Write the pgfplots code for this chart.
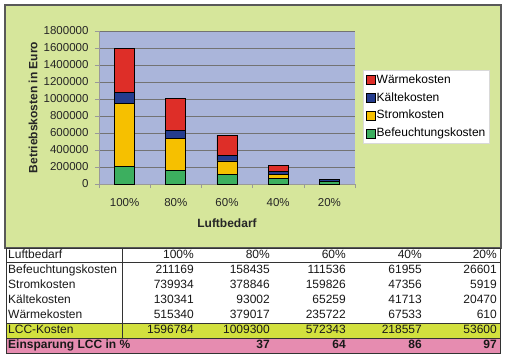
\documentclass[border=0pt]{standalone}
\usepackage{pgfplots}
\pgfplotsset{compat=1.18}
\usepackage{fontspec}
\setmainfont{Liberation Sans}
\definecolor{bggreen}{RGB}{214,230,155}
\definecolor{plotbg}{RGB}{170,181,218}
\definecolor{lccc}{RGB}{210,224,62}
\definecolor{pinkc}{RGB}{230,140,176}
\definecolor{cred}{RGB}{222,46,40}
\definecolor{cblue}{RGB}{36,60,142}
\definecolor{cyellow}{RGB}{246,192,0}
\definecolor{cgreen}{RGB}{60,175,95}
\pgfplotsset{leg/.style={legend image code/.code={\draw[##1,draw=black,line width=0.6pt] (0pt,-4.5pt) rectangle (9pt,4.5pt);}}}
\begin{document}
\begin{tikzpicture}
\begin{scope}[x=1pt,y=1pt]
\path[use as bounding box] (0,0) rectangle (506,360);
\fill[white] (0,0) rectangle (506,360);
\draw[fill=bggreen, draw=black!65, line width=1.2pt] (5,112) rectangle (501,355);
\end{scope}
\begin{axis}[at={(99pt,176pt)}, anchor=origin, scale only axis, width=256pt, height=153pt,
  ybar stacked, bar width=20pt,
  xmin=0, xmax=5, ymin=0, ymax=1800000,
  xtick={0.5,1.5,2.5,3.5,4.5}, xticklabels={100\%,80\%,60\%,40\%,20\%},
  minor xtick={0,1,2,3,4,5},
  ytick={0,200000,...,1800000},
  scaled y ticks=false,
  y tick label style={/pgf/number format/fixed,/pgf/number format/1000 sep={}, xshift=-3pt},
  x tick label style={yshift=-7pt},
  /pgf/number format/assume math mode=true,
  tick label style={font=\fontsize{11.5}{13}\selectfont, text=black!85},
  axis x line*=bottom, axis y line*=left,
  axis line style={draw=gray!80},
  tick style={draw=gray!80},
  major x tick style={draw=none},
  tick align=outside,
  major tick length=4pt, minor tick length=4pt,
  ymajorgrids, grid style={draw=black!55, line width=0.5pt},
  axis background/.style={fill=plotbg},
  every axis y label/.style={at={(axis description cs:-0.2578,0.5)}, rotate=90, anchor=center},
  every axis x label/.style={at={(axis description cs:0.5,-0.255)}, anchor=center},
  label style={font=\bfseries\fontsize{12}{14}\selectfont, text=black!85},
  xlabel={Luftbedarf}, ylabel={Betriebskosten in Euro},
  legend style={at={(axis description cs:1.03,0.745)}, anchor=north west, draw=gray!30, fill=white,
    font=\fontsize{12}{14}\selectfont, row sep=4pt, inner xsep=3pt, inner ysep=3pt,
    cells={anchor=west}, nodes={inner sep=1.2pt, text height=8.8pt, text depth=2.6pt}},
  reverse legend,
]
\addplot[fill=cgreen, draw=black, line width=0.8pt, leg] coordinates {(0.5,211169) (1.5,158435) (2.5,111536) (3.5,61955) (4.5,26601)};
\addlegendentry{Befeuchtungskosten}
\addplot[fill=cyellow, draw=black, line width=0.8pt, leg] coordinates {(0.5,739934) (1.5,378846) (2.5,159826) (3.5,47356) (4.5,5919)};
\addlegendentry{Stromkosten}
\addplot[fill=cblue, draw=black, line width=0.8pt, leg] coordinates {(0.5,130341) (1.5,93002) (2.5,65259) (3.5,41713) (4.5,20470)};
\addlegendentry{Kältekosten}
\addplot[fill=cred, draw=black, line width=0.8pt, leg] coordinates {(0.5,515340) (1.5,379017) (2.5,235722) (3.5,67533) (4.5,610)};
\addlegendentry{Wärmekosten}
\end{axis}
\begin{scope}[x=1pt,y=1pt]
\fill[white] (6,37) rectangle (500,112);
\fill[lccc] (6,22) rectangle (500,37);
\fill[pinkc] (6,7) rectangle (500,22);
\begin{scope}[line width=0.8pt, draw=black!80]
\draw (6,7) rectangle (500,112);
\draw (6,97.5) -- (500,97.5);
\draw (6,37) -- (500,37);
\draw (6,22) -- (500,22);
\draw (122,22) -- (122,112);
\end{scope}
\begin{scope}[every node/.style={inner sep=0pt, font=\fontsize{12}{14}\selectfont, text=black!90}]
\foreach \name/\yy in {Luftbedarf/104, Befeuchtungskosten/89.5, Stromkosten/74.5, Kältekosten/59.5, Wärmekosten/44, LCC-Kosten/29}
  \node[anchor=mid west] at (8,\yy) {\name};
\node[anchor=mid west] at (8,14) {\bfseries Einsparung LCC in \%};
\foreach \a/\b/\c/\d/\e/\yy in {100\%/80\%/60\%/40\%/20\%/104,
  211169/158435/111536/61955/26601/89.5,
  739934/378846/159826/47356/5919/74.5,
  130341/93002/65259/41713/20470/59.5,
  515340/379017/235722/67533/610/44,
  1596784/1009300/572343/218557/53600/29}{
  \node[anchor=mid east] at (194,\yy) {\a};
  \node[anchor=mid east] at (270,\yy) {\b};
  \node[anchor=mid east] at (346,\yy) {\c};
  \node[anchor=mid east] at (422,\yy) {\d};
  \node[anchor=mid east] at (497,\yy) {\e};
}
\node[anchor=mid east, font=\bfseries\fontsize{12}{14}\selectfont] at (270,14) {37};
\node[anchor=mid east, font=\bfseries\fontsize{12}{14}\selectfont] at (346,14) {64};
\node[anchor=mid east, font=\bfseries\fontsize{12}{14}\selectfont] at (422,14) {86};
\node[anchor=mid east, font=\bfseries\fontsize{12}{14}\selectfont] at (497,14) {97};
\end{scope}
\end{scope}
\end{tikzpicture}
\end{document}
